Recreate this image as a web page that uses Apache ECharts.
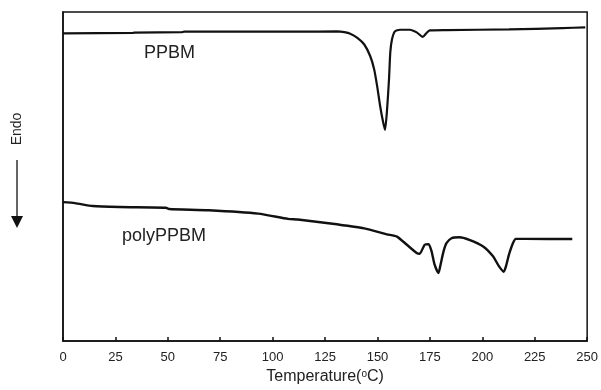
<!DOCTYPE html>
<html>
<head>
<meta charset="utf-8">
<script src="https://cdn.jsdelivr.net/npm/echarts@6/dist/echarts.min.js"></script>
<style>html,body{margin:0;padding:0;background:#fff}#c{width:601px;height:390px}</style>
</head>
<body>
<div id="c"></div>
<script>
// Temperature (°C) and heat-flow (arbitrary units, endo down)
const ppbmT = [0, 33.1, 34.0, 56.7, 57.7, 112.0, 130.9, 134.2, 137.0, 140.4, 143.7, 146.5, 148.4, 149.8, 151.2, 152.6, 153.6, 154.5, 155.5, 156.1, 156.9, 158.3, 160.7, 165.4, 168.7, 171.6, 173.4, 174.9, 182.9, 212.7, 238.2, 249.1];
const ppbmQ = [312.3, 312.7, 313, 313.5, 314, 314, 314.3, 313.5, 312, 307.7, 301, 289.3, 276, 259.3, 239.3, 223, 214.3, 233, 266, 293, 306, 314.3, 316, 316, 313.3, 308.7, 312.7, 315.3, 315.7, 316.3, 317.7, 318.3];

const polyT = [0, 5.7, 14.2, 26.9, 49.1, 50.6, 69.5, 93.1, 107.3, 112.0, 127.6, 143.7, 154.5, 159.3, 164.0, 168.7, 170.1, 172.5, 174.4, 175.8, 177.2, 179.1, 180.1, 181.5, 182.9, 185.3, 189.0, 193.8, 200.4, 205.1, 207.9, 210.2, 211.3, 212.7, 214.6, 216.0, 220.7, 242.9];
const polyQ = [141, 140, 137, 136, 135.3, 134, 132.7, 129.3, 124, 123.3, 119.3, 114.3, 108.3, 106, 97.7, 89.3, 88.5, 97.7, 98.3, 91, 77.7, 69, 77.7, 91, 99.3, 104.3, 105.3, 102.7, 96, 86, 76, 70.3, 76, 87.7, 99.3, 103.7, 103.7, 103.5];

const xTicks = [0, 25, 50, 75, 100, 125, 150, 175, 200, 225, 250];
const seriesNames = ['PPBM', 'polyPPBM'];

const zip = (a, b) => a.map((v, i) => [v, b[i]]);
const FONT = '"Liberation Sans", Arial, sans-serif';

const chart = echarts.init(document.getElementById('c'), null, {renderer: 'canvas'});
chart.setOption({
  animation: false,
  backgroundColor: '#fff',
  grid: {left: 63, right: 9, top: 12, bottom: 44, show: true, borderColor: '#111', borderWidth: 1.5},
  xAxis: {
    type: 'value', min: xTicks[0], max: xTicks[xTicks.length - 1], interval: 25,
    name: 'Temperature({s|o}C)',
    nameLocation: 'middle', nameGap: 28,
    nameTextStyle: {fontFamily: FONT, fontSize: 16, color: '#222',
      rich: {s: {fontFamily: FONT, fontSize: 10, color: '#222', verticalAlign: 'top', padding: [0, 0, 6, 0]}}},
    axisLine: {lineStyle: {color: '#111', width: 1.5}},
    axisTick: {inside: true, length: 4, lineStyle: {color: '#111', width: 1.5}},
    axisLabel: {fontFamily: FONT, fontSize: 13, color: '#222', margin: 10},
    splitLine: {show: false}
  },
  yAxis: {
    type: 'value', min: 0, max: 334,
    axisLine: {show: true, lineStyle: {color: '#111', width: 1.5}},
    axisTick: {show: false}, axisLabel: {show: false}, splitLine: {show: false}
  },
  series: [
    {name: seriesNames[0], type: 'line', data: zip(ppbmT, ppbmQ), showSymbol: false, smooth: 0.2,
     lineStyle: {color: '#111', width: 2.2}},
    {name: seriesNames[1], type: 'line', data: zip(polyT, polyQ), showSymbol: false, smooth: 0.2,
     lineStyle: {color: '#111', width: 2.4}}
  ],
  graphic: [
    {type: 'text', left: 144, top: 44, style: {text: seriesNames[0], font: '18px ' + FONT, fill: '#222'}},
    {type: 'text', left: 122, top: 227, style: {text: seriesNames[1], font: '18px ' + FONT, fill: '#222'}},
    {type: 'text', x: 17, y: 129, rotation: Math.PI / 2,
     style: {text: 'Endo', font: '14px ' + FONT, fill: '#222', align: 'center', verticalAlign: 'middle'}},
    {type: 'line', shape: {x1: 17, y1: 160, x2: 17, y2: 218}, style: {stroke: '#111', lineWidth: 1.3}},
    {type: 'polygon', shape: {points: [[11, 216], [23, 216], [17, 228]]}, style: {fill: '#111'}}
  ]
});
</script>
</body>
</html>
